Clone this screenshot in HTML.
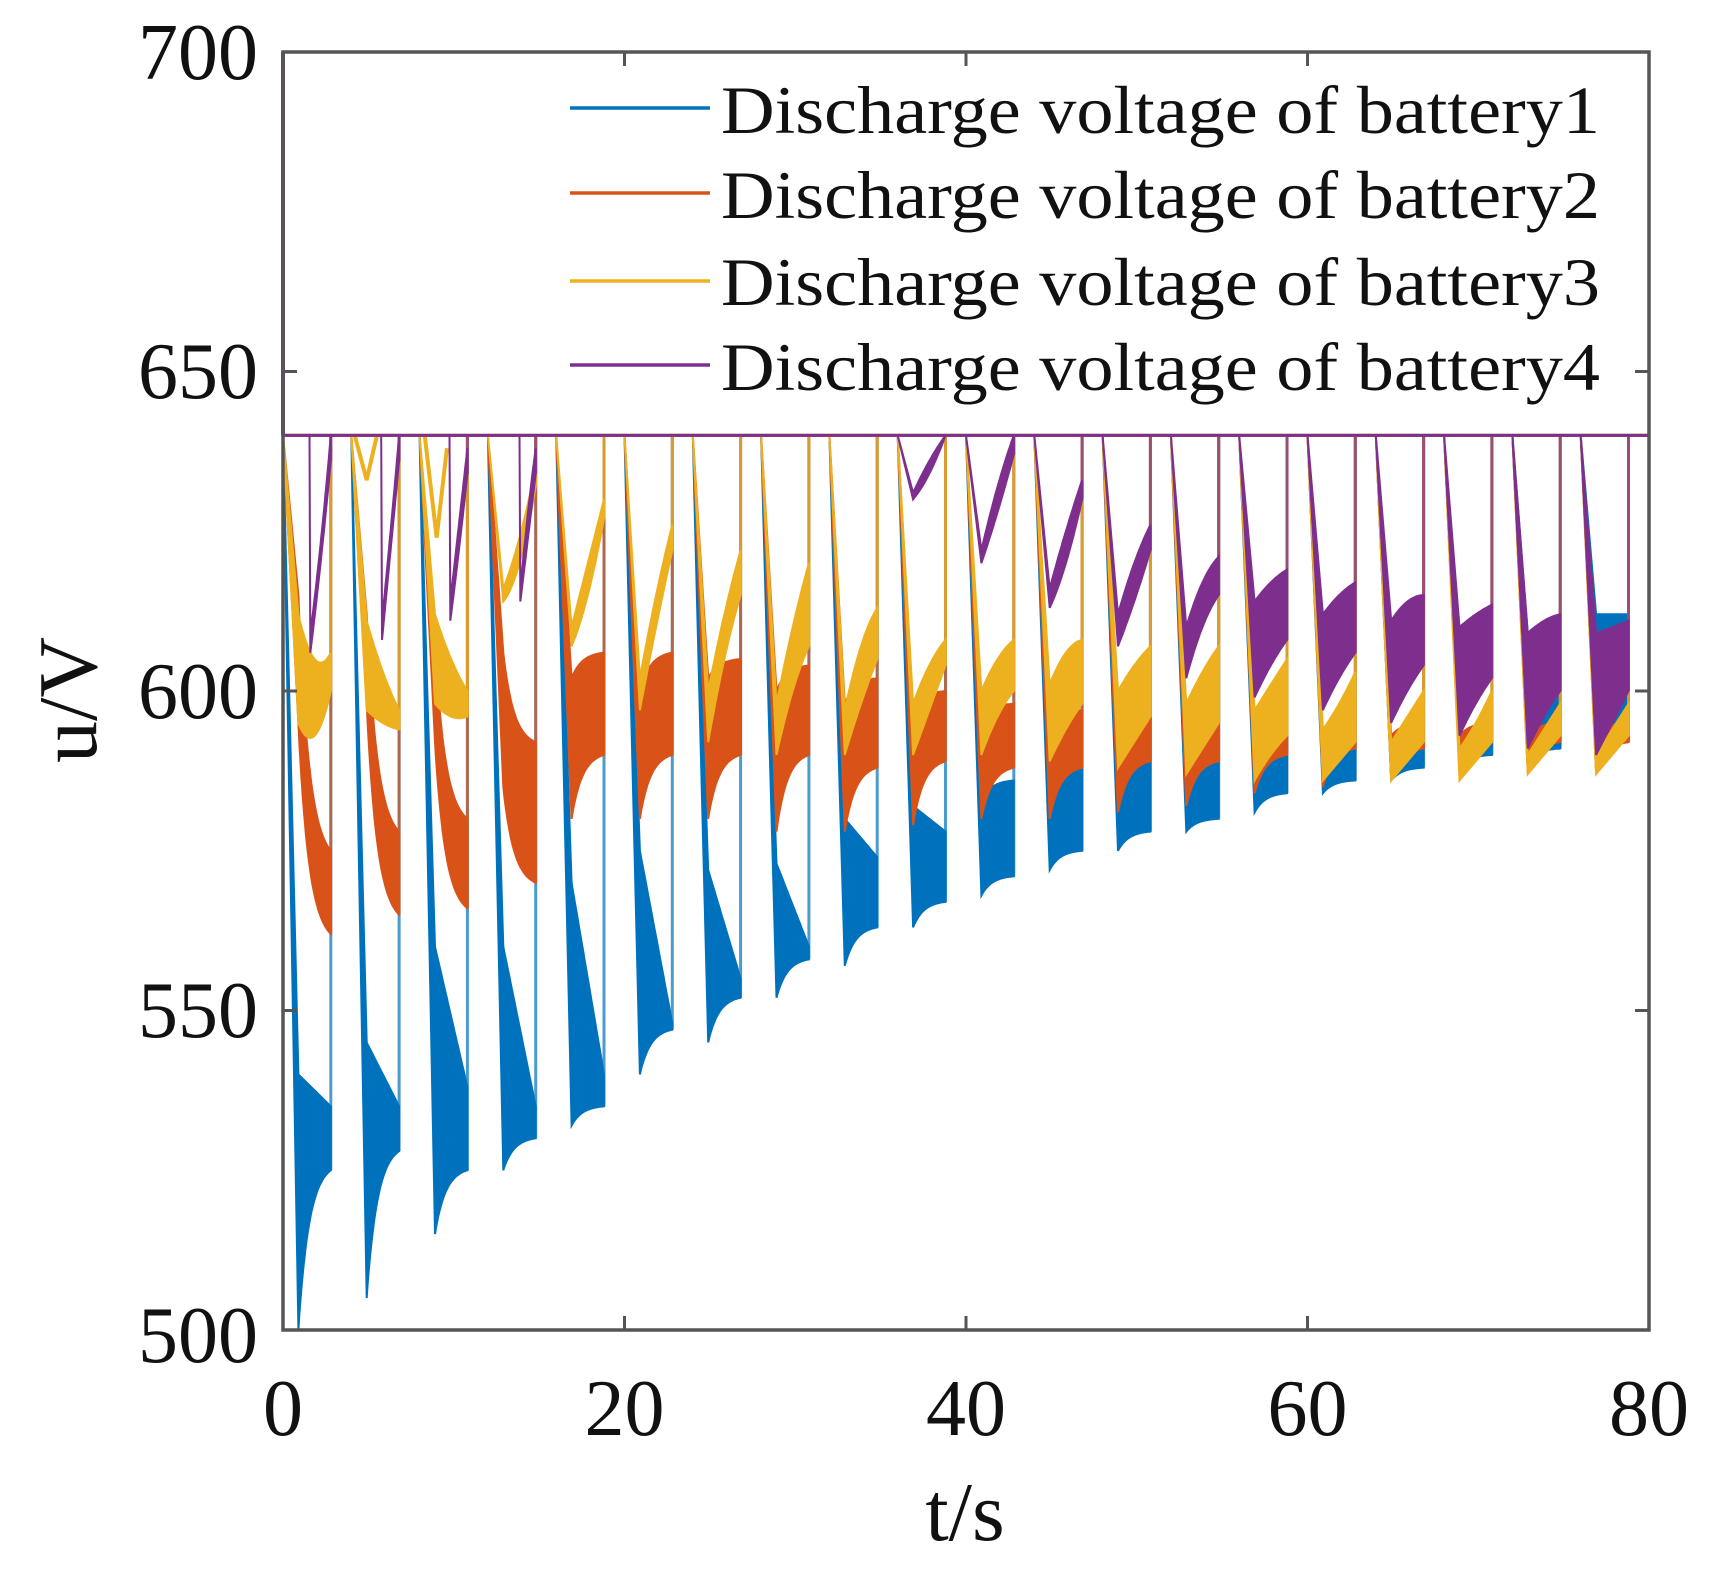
<!DOCTYPE html>
<html><head><meta charset="utf-8"><style>
html,body{margin:0;padding:0;background:#fff;}
svg{display:block;}
text{font-family:"Liberation Serif",serif;fill:#111;}
</style></head><body>
<svg id="s" width="1717" height="1578" viewBox="0 0 1717 1578" xmlns="http://www.w3.org/2000/svg">
<rect width="1717" height="1578" fill="#fff"/>
<g id="data"></g>
<rect x="283" y="52" width="1366" height="1278" fill="none" stroke="#555" stroke-width="3.5"/>
<g stroke="#555" stroke-width="3">
<line x1="283" y1="371.5" x2="297" y2="371.5"/><line x1="283" y1="691" x2="297" y2="691"/><line x1="283" y1="1010.5" x2="297" y2="1010.5"/>
<line x1="1649" y1="371.5" x2="1635" y2="371.5"/><line x1="1649" y1="691" x2="1635" y2="691"/><line x1="1649" y1="1010.5" x2="1635" y2="1010.5"/>
<line x1="624.5" y1="1330" x2="624.5" y2="1316"/><line x1="966" y1="1330" x2="966" y2="1316"/><line x1="1307.5" y1="1330" x2="1307.5" y2="1316"/>
<line x1="624.5" y1="52" x2="624.5" y2="66"/><line x1="966" y1="52" x2="966" y2="66"/><line x1="1307.5" y1="52" x2="1307.5" y2="66"/>
</g>
<g font-size="80" text-anchor="end">
<text x="258" y="79">700</text><text x="258" y="398">650</text><text x="258" y="718">600</text><text x="258" y="1037">550</text><text x="258" y="1362">500</text>
</g>
<g font-size="80" text-anchor="middle">
<text x="283" y="1435">0</text><text x="624.5" y="1435">20</text><text x="966" y="1435">40</text><text x="1307.5" y="1435">60</text><text x="1649" y="1435">80</text>
</g>
<text x="965" y="1540" font-size="84" text-anchor="middle">t/s</text>
<text transform="translate(96,700) rotate(-90)" font-size="84" text-anchor="middle">u/V</text>
<g stroke-width="3.5">
<line x1="570" y1="108" x2="710" y2="108" stroke="#0072BD"/>
<line x1="570" y1="193" x2="710" y2="193" stroke="#D95319"/>
<line x1="570" y1="281" x2="710" y2="281" stroke="#EDB120"/>
<line x1="570" y1="365" x2="710" y2="365" stroke="#7E2F8E"/>
</g>
<g font-size="68">
<text x="721" y="133" textLength="879" lengthAdjust="spacingAndGlyphs">Discharge voltage of battery1</text>
<text x="721" y="218" textLength="879" lengthAdjust="spacingAndGlyphs">Discharge voltage of battery2</text>
<text x="721" y="305" textLength="879" lengthAdjust="spacingAndGlyphs">Discharge voltage of battery3</text>
<text x="721" y="390" textLength="879" lengthAdjust="spacingAndGlyphs">Discharge voltage of battery4</text>
</g>
</svg>
<script>
(function(){
var X=function(t){return 283+t*17.075;}, Y=function(v){return 52+(700-v)*6.39;};
var f=function(s){return (1-Math.exp(-3*s))/(1-Math.exp(-3));};
function val(a,s){ if(a.length==2) return a[0]+(a[1]-a[0])*f(s);
  if(a.length==3&&a[2]==='lin') return a[0]+(a[1]-a[0])*s;
  var p0=a[0],p1=a[1],p2=a[2]; return p0*2*(s-0.5)*(s-1)+p1*(-4)*s*(s-1)+p2*2*s*(s-0.5);}
var B=[[500,525,540,535],[505,528,545,535],[515,525,560,538],[525,530,560,535],[532,535,570,540],[540,547,575,548],[545,552,572,555],[552,558,573,560],[557,563,580,574],[563,567,582,578],[568,571,583,586],[572,575,585,588],[575,578,586,589],[578,580,588,590],[581,584,589,591],[584,586,590,592],[586,588,591,593],[588,590,592,594],[589,591,609,611],[589,592,612,612]];
var O=[[595,562,615,575],[598,565,612,578],[592,566,607,580],[585,570,606,592],[580,590,602,606],[580,590,600,606],[580,590,602,605],[578,590,600,604],[578,588,598,602],[579,589,597,600],[580,588,596,598],[580,588,595,597],[581,589,594,596],[582,589,594,596],[584,590,593,595],[585,591,593,595],[586,591,593,595],[587,592,593,595],[587,592,593,595],[587,592,593,595]];
var Yl=[[[595,593,600],[612,605,606]],[[597,595,594],[611,603,597]],[[598,596,596],[612,605,600]],[[614,620,632],[616,624,635]],[[607,615,627],[610,620,630]],[[597,610,622],[602,615,626]],[[592,605,615],[600,612,622]],[[590,600,607],[598,610,620]],[[590,598,605],[597,607,613]],[[590,597,604],[598,604,608]],[[590,596,600],[600,605,608]],[[589,594,598],[601,606,608]],[[588,592,596],[600,604,607]],[[587,591,595],[598,603,607]],[[586,590,593],[597,601,605]],[[586,589,592],[594,598,603]],[[586,589,592],[592,596,600]],[[586,589,592],[591,595,600]],[[587,590,593],[590,594,598]],[[587,590,593],[590,594,598]]];
var P=[[[606,620,636],[609,623,640],1.2],[[608,622,636],[611,625,640],1.0],[[611,622,634],[614,626,638],1.0],[[614,624,634],[616,628,638],0.9],null,null,null,null,null,
[[630,634,640],[631,636,640]],[[620,628,637],[622,632,640]],[[613,620,630],[616,625,633]],[[607,614,622],[612,620,626]],[[602,610,615],[610,617,621]],[[599,604,608],[614,617,619]],[[597,602,606],[612,615,617]],[[595,600,604],[611,614,615]],[[593,598,602],[610,612,613.5]],[[591,596,600],[609,611,612]],[[590,595,600],[609,610,611]]];
var out='';
function band(k,L,U,col,over){
  var r=2.8+4*k, d=r-2.8, b=d+0.9; if(k==0){d=0;b=0.9;}
  if(over){b=r-over;d=b-0.05;}
  var up=[],lo=[],N=30;
  for(var i=0;i<=N;i++){var s=i/N,t=b+(r-b)*s;up.push(X(t).toFixed(1)+','+Y(val(U,s)).toFixed(1));lo.push(X(t).toFixed(1)+','+Y(val(L,s)).toFixed(1));}
  var pts=[X(d).toFixed(1)+','+Y(640).toFixed(1)].concat(up).concat(lo.reverse());
  out+='<polygon points="'+pts.join(' ')+'" fill="'+col+'" stroke="'+col+'" stroke-width="2"/>';
  out+='<line x1="'+X(r)+'" y1="'+Y(Math.min(val(L,1),val(U,1)))+'" x2="'+X(r)+'" y2="'+Y(640)+'" stroke="'+col+'" stroke-width="3" opacity="0.7"/>';
}
var cols=['#0072BD','#D95319','#EDB120','#7E2F8E'];
for(var c=0;c<4;c++){
  out+='<line x1="'+X(0)+'" y1="'+Y(640)+'" x2="'+X(80)+'" y2="'+Y(640)+'" stroke="'+cols[c]+'" stroke-width="3"/>';
  for(var k=0;k<20;k++){
    if(c==0) band(k,[B[k][0],B[k][1]],k<10?[B[k][2],B[k][3],'lin']:[B[k][2],B[k][3]],cols[0]);
    if(c==1) band(k,[O[k][0],O[k][1]],[O[k][2],O[k][3]],cols[1]);
    if(c==2) band(k,Yl[k][0],Yl[k][1],cols[2]);
    if(c==3&&P[k]) band(k,P[k][0],P[k][1],cols[3],P[k][2]);
  }
  if(c==2){
    var ex=[[[4.2,640],[4.9,633],[5.5,640]],[[8.3,640],[9.0,624],[9.6,638]]];
    ex.forEach(function(e){out+='<polyline fill="none" stroke="'+cols[2]+'" stroke-width="4" points="'+e.map(function(p){return X(p[0])+','+Y(p[1]);}).join(' ')+'"/>';});
  }
}
out+='<line x1="'+X(0)+'" y1="'+Y(700)+'" x2="'+X(0)+'" y2="'+Y(640)+'" stroke="#7E2F8E" stroke-width="4"/>';
document.getElementById('data').innerHTML=out;
})();
</script>
</body></html>
